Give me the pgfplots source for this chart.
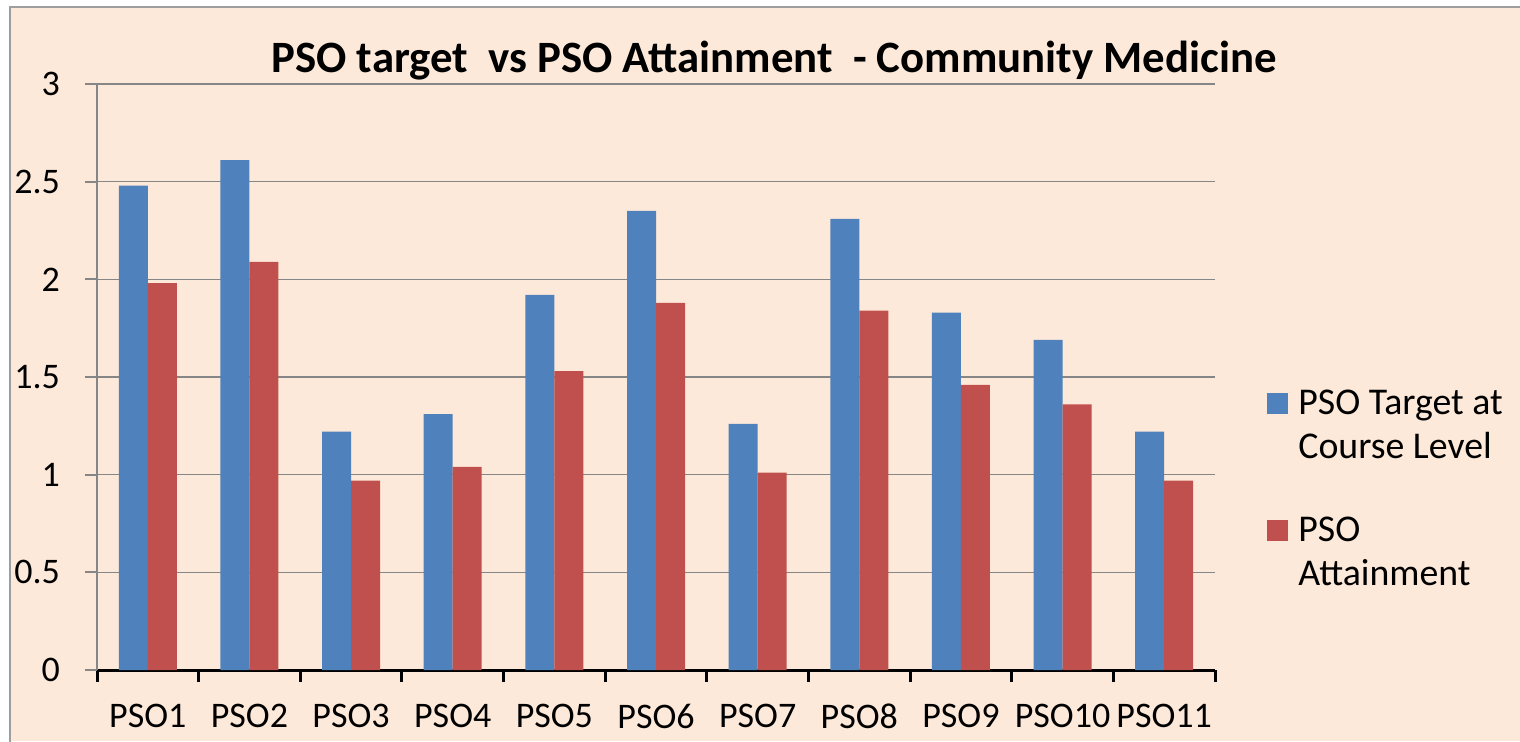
\documentclass[border=0pt]{standalone}
\usepackage{pgfplots}
\pgfplotsset{compat=1.18}
\usepackage{fontspec}
\setmainfont{Carlito}
\definecolor{bg}{RGB}{253,233,217}
\definecolor{cblue}{RGB}{79,129,189}
\definecolor{cred}{RGB}{192,80,77}
\definecolor{gridgray}{RGB}{134,134,134}
\begin{document}
\begin{tikzpicture}[x=1pt,y=1pt]
\path[use as bounding box, fill=white] (0,0) rectangle (760,370.5);
\fill[bg] (5,0) rectangle (760,367);
\draw[gridgray!80, line width=1pt] (5,-1) -- (5,367) -- (761,367);
\begin{axis}[
  at={(48.5pt,35.5pt)}, anchor=south west,
  scale only axis, width=559pt, height=293pt,
  ymin=0, ymax=3, xmin=0.5, xmax=11.5,
  ytick={0,0.5,...,3},
  ymajorgrids, grid style={gridgray, line width=0.8pt},
  axis x line*=bottom, axis y line*=left,
  x axis line style={black, line width=1.5pt, -},
  y axis line style={gridgray, line width=1pt, -},
  ytick style={gridgray, line width=1pt},
  xtick style={black, line width=1.5pt},
  major tick length=6pt, tick align=outside,
  xtick={0.5,1.5,...,11.5},
  x tick label as interval,
  xticklabels={PSO1,PSO2,PSO3,PSO4,PSO5,PSO6,PSO7,PSO8,PSO9,PSO10,PSO11},
  ticklabel style={font=\fontsize{18}{21.6}\selectfont},
  /pgf/number format/assume math mode=true,
  xticklabel style={yshift=-7.5pt},
  yticklabel style={xshift=-9pt},
  ybar=0pt, bar width=14.5pt,
  title={PSO target\ \ vs PSO Attainment\ \ - Community Medicine},
  title style={font=\fontsize{22.4}{27}\selectfont\bfseries, at={(axis description cs:0.6056,1.0187)}, anchor=center},
  legend style={at={(axis description cs:1.0465,0.485)}, anchor=north west, draw=none, fill=none,
    font=\fontsize{18.9}{22}\selectfont, nodes={align=left}, row sep=23.5pt, column sep=3pt, inner sep=0pt},
  legend cell align=left,
  legend image code/.code={\fill[#1] (0pt,5.75pt) rectangle (10.5pt,16.25pt);},
]
\addplot[fill=cblue, draw=none] coordinates {(1,2.48) (2,2.61) (3,1.22) (4,1.31) (5,1.92) (6,2.35) (7,1.26) (8,2.31) (9,1.83) (10,1.69) (11,1.22)};
\addplot[fill=cred, draw=none] coordinates {(1,1.98) (2,2.09) (3,0.97) (4,1.04) (5,1.53) (6,1.88) (7,1.01) (8,1.84) (9,1.46) (10,1.36) (11,0.97)};
\legend{PSO Target at\\Course Level, PSO\\Attainment}
\end{axis}
\end{tikzpicture}
\end{document}
